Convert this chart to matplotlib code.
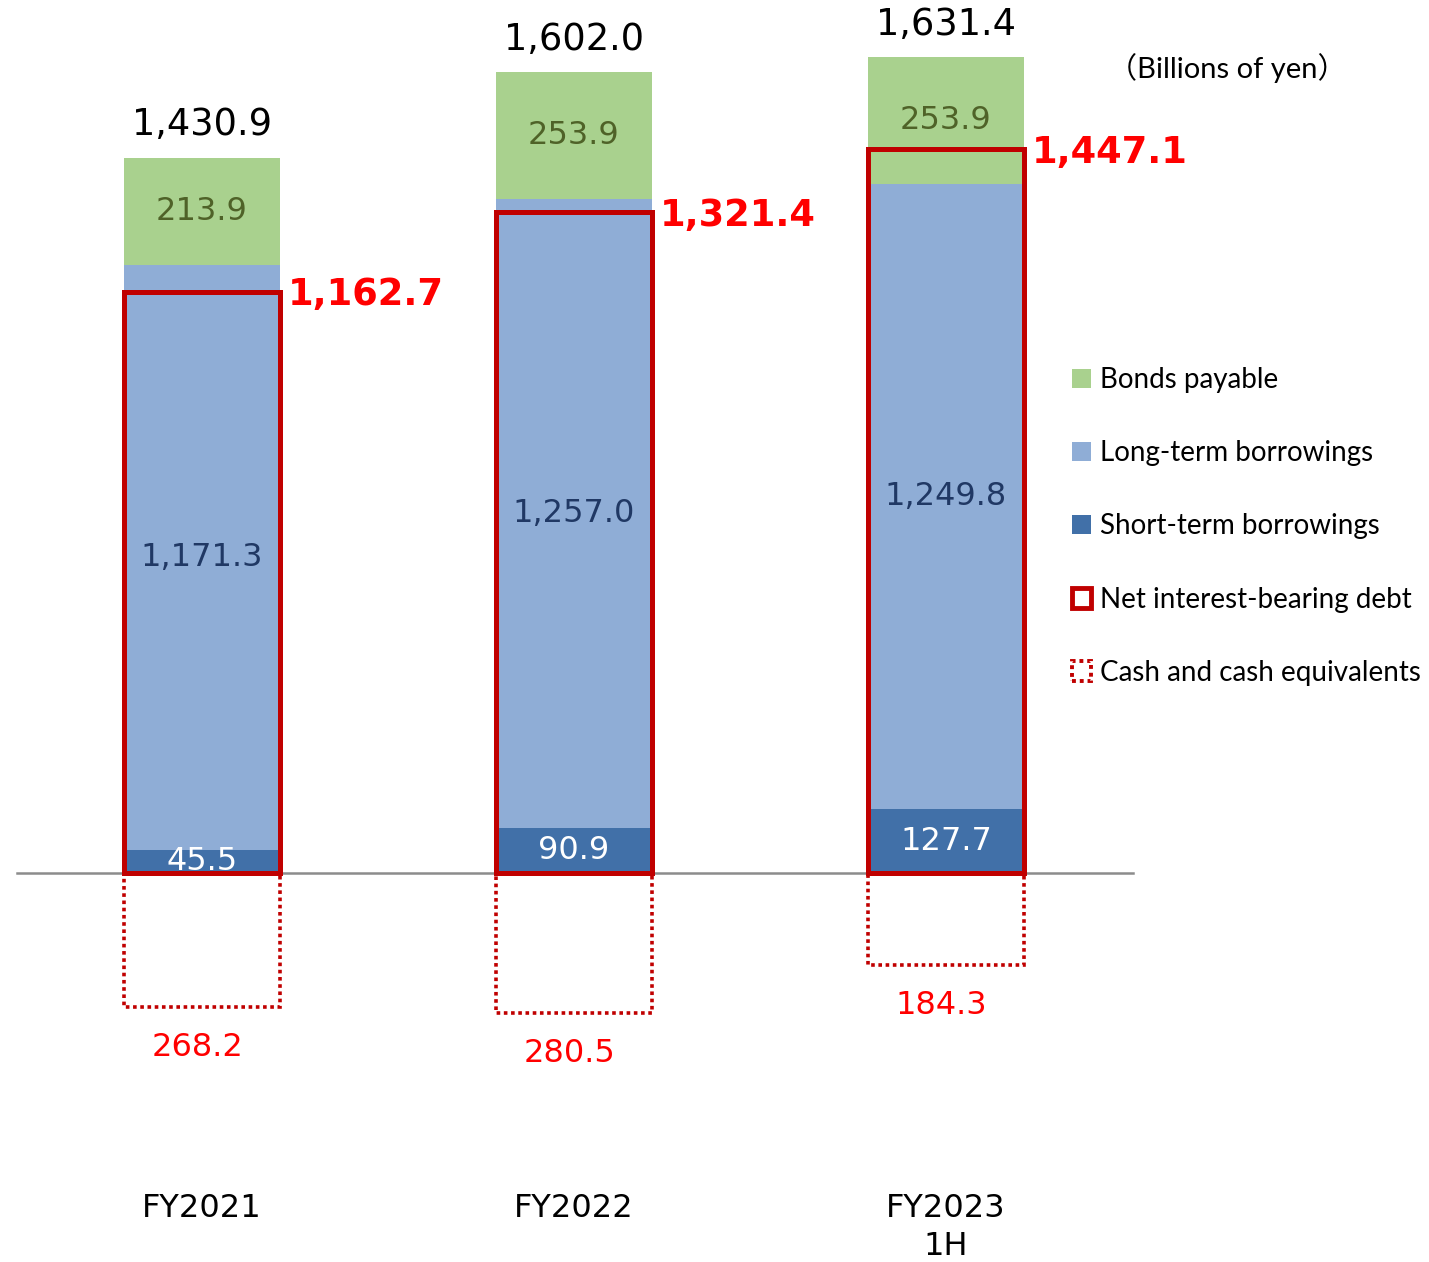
import matplotlib
matplotlib.use("Agg")
import matplotlib.pyplot as plt
from matplotlib.patches import Patch
import numpy as np

# データ（単位：十億円）
periods = ["FY2021", "FY2022", "FY2023\n1H"]
short_term = [45.5, 90.9, 127.7]
long_term = [1171.3, 1257.0, 1249.8]
bonds = [213.9, 253.9, 253.9]
totals = [1430.9, 1602.0, 1631.4]
net_debt = [1162.7, 1321.4, 1447.1]
cash = [268.2, 280.5, 184.3]

c_bond = "#A9D18E"
c_long = "#8FADD6"
c_short = "#4170A8"
c_red = "#C00000"

num_font = "DejaVu Sans"
leg_font = ["Lato", "Noto Sans CJK JP"]

fig = plt.figure(figsize=(14.29, 12.62), dpi=100)
ax = fig.add_axes([0, 0, 1, 1])
ax.set_xlim(-202 / 372, (1429 - 202) / 372)
ax.set_ylim(-778, 1746)
ax.axis("off")

x = np.arange(len(periods))
w = 0.42
s = np.array(short_term)
l = np.array(long_term)
b = np.array(bonds)

ax.bar(x, s, w, color=c_short, zorder=2)
ax.bar(x, l, w, bottom=s, color=c_long, zorder=2)
ax.bar(x, b, w, bottom=s + l, color=c_bond, zorder=2)

# 純有利子負債（赤枠）と現金（点線枠）
ax.bar(x, net_debt, w, fill=False, edgecolor=c_red, lw=3.6, zorder=4)
ax.bar(x, [-v for v in cash], w, fill=False, edgecolor=c_red, lw=2.6,
       ls=(0, (1, 1)), zorder=3)

ax.axhline(0, xmin=17 / 1429, xmax=1133 / 1429, color="#8C8C8C", lw=1.8, zorder=3)

for i in range(len(x)):
    ax.text(x[i], s[i] / 2, f"{short_term[i]:.1f}", ha="center", va="center",
            color="white", fontsize=23, family=num_font, zorder=5)
    ax.text(x[i], s[i] + l[i] / 2, f"{long_term[i]:,.1f}", ha="center", va="center",
            color="#203864", fontsize=23, family=num_font, zorder=5)
    ax.text(x[i], s[i] + l[i] + b[i] / 2, f"{bonds[i]:.1f}", ha="center", va="center",
            color="#4F6228", fontsize=23, family=num_font, zorder=5)
    ax.text(x[i], totals[i] + 66, f"{totals[i]:,.1f}", ha="center", va="center",
            color="black", fontsize=26.5, family=num_font)
    ax.text(x[i] + w / 2 + 0.02, net_debt[i] - 6, f"{net_debt[i]:,.1f}", ha="left",
            va="center", color="#FF0000", fontsize=26.5, fontweight="bold", family=num_font)
    ax.text(x[i] - 0.012, -cash[i] - 80, f"{cash[i]:.1f}", ha="center", va="center",
            color="#FF0000", fontsize=23, family=num_font)
    ax.text(x[i], -640, periods[i], ha="center", va="top", color="black",
            fontsize=23, family=num_font, linespacing=1.3)

ax.text(1227 / 1429, 1 - 68 / 1262, "（Billions of yen）", transform=fig.transFigure,
        ha="center", va="center", fontsize=21, family=leg_font)

handles = [
    Patch(facecolor=c_bond, label="Bonds payable"),
    Patch(facecolor=c_long, label="Long-term borrowings"),
    Patch(facecolor=c_short, label="Short-term borrowings"),
    Patch(facecolor="white", edgecolor=c_red, lw=3.5, label="Net interest-bearing debt"),
    Patch(facecolor="white", edgecolor=c_red, lw=2.8, ls=(0, (1, 1)),
          label="Cash and cash equivalents"),
]
ax.legend(handles=handles, loc="upper left", bbox_to_anchor=(1072 / 1429, 1 - 367 / 1262),
          bbox_transform=fig.transFigure, frameon=False, prop={"family": leg_font, "size": 20},
          handlelength=0.7, handleheight=0.7, handletextpad=0.3, labelspacing=1.7,
          borderaxespad=0, borderpad=0)

fig.savefig("out.png", dpi=100)
